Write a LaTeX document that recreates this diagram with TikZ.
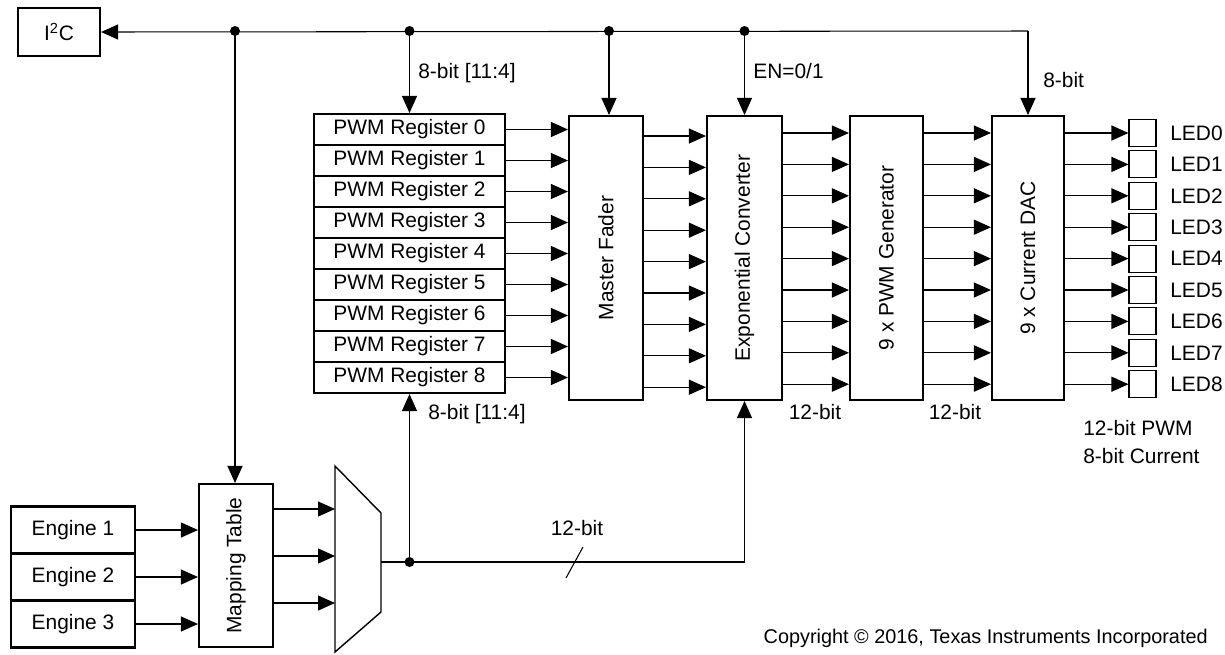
\documentclass[tikz,border=0pt]{standalone}
\usepackage{fontspec}
\setmainfont{Liberation Sans}
\usetikzlibrary{arrows.meta, positioning}

\begin{document}
\begin{tikzpicture}[x=0.02cm, y=-0.02cm, font=\fontsize{11.9}{16}\selectfont,
    blk/.style={draw, line width=1.2pt, inner sep=0pt},
    reg/.style={blk, minimum width=3.82cm, minimum height=0.62cm},
    tall/.style={blk, minimum height=5.68cm},
    eng/.style={blk, minimum width=2.48cm, minimum height=0.94cm},
    led/.style={draw, line width=0.6pt, minimum size=0.54cm, inner sep=0pt},
    wire/.style={line width=0.6pt},
    arr/.style={wire, -{Triangle[length=0.34cm, width=0.3cm]}},
    junc/.style={circle, fill, inner sep=0pt, minimum size=0.2cm},
    lbl/.style={inner sep=0pt}]

\useasboundingbox (0,0) rectangle (1225,654);

% host interface
\node[blk, minimum width=1.64cm, minimum height=0.96cm] (i2c) at (59,32) {I\textsuperscript{2}C};

% register bank
\foreach \i in {0,...,8} {
  \node[reg] (reg\i) at (409.5,{129.5+31*\i}) {PWM Register \i};
}

% processing chain
\node[tall, minimum width=1.48cm] (fader) at (606,258) {};
\node[rotate=90] at (fader) {Master Fader};
\node[tall, minimum width=1.5cm] (expconv) at (744.5,258) {};
\node[rotate=90] at (expconv) {Exponential Converter};
\node[tall, minimum width=1.46cm] (pwmgen) at (886.5,258) {};
\node[rotate=90] at (pwmgen) {9 x PWM Generator};
\node[tall, minimum width=1.44cm] (dac) at (1028,258) {};
\node[rotate=90] at (dac) {9 x Current DAC};

% channels between the blocks
\foreach \i [evaluate=\i as \ya using 136+31.4*\i,
             evaluate=\i as \yb using 133+31.4*\i] in {0,...,8} {
  \draw[arr] (reg\i.east) -- (reg\i.east -| fader.west);
  \draw[arr] (fader.east |- 0,\ya) -- (expconv.west |- 0,\ya);
  \draw[arr] (expconv.east |- 0,\yb) -- (pwmgen.west |- 0,\yb);
  \draw[arr] (pwmgen.east |- 0,\yb) -- (dac.west |- 0,\yb);
  \node[led] (led\i) at (1142.5,\yb) {};
  \draw[arr] (dac.east |- led\i) -- (led\i.west);
  \node[lbl, anchor=west] (ledname\i) at (1170,\yb) {LED\i};
}

% bus from the host
\coordinate (busend) at (dac.north |- 0,31);
\node[junc] (j1) at (235,31) {};
\node[junc] (j2) at (409.5,31) {};
\node[junc] (j3) at (609,31) {};
\node[junc] (j4) at (744.5,31) {};
\draw[arr] (busend) -- (i2c.east);
\draw[arr] (busend) -- (dac.north);
\draw[arr] (j2.center) -- (reg0.north);
\draw[arr] (j3.center) -- (j3.center |- fader.north);
\draw[arr] (j4.center) -- (expconv.north);

\node[lbl, anchor=west] (regbits) at (418,73) {8-bit [11:4]};
\node[lbl, anchor=west] (enbit) at (753,71) {EN=0/1};
\node[lbl, anchor=west] (dacbits) at (1043,80) {8-bit};
\node[lbl] (expbits) at (815,412) {12-bit};
\node[lbl] (genbits) at (955,412) {12-bit};
\node[lbl, anchor=west, align=left] (outinfo) at (1083,442) {12-bit PWM\\8-bit Current};

% engines and mapping
\foreach \i/\y in {1/530,2/577,3/624} {
  \node[eng] (eng\i) at (73,\y) {Engine \i};
}
\node[blk, minimum width=1.48cm, minimum height=3.26cm] (maptab) at (236,565.5) {};
\node[rotate=90] at (maptab) {Mapping Table};
\foreach \i in {1,2,3} {
  \draw[arr] (eng\i.east) -- (eng\i.east -| maptab.west);
}
\draw[arr] (j1.center) -- (j1.center |- maptab.north);

% selector
\coordinate (muxtl) at (335,466);
\coordinate (muxtr) at (381,513);
\coordinate (muxbr) at (381,612);
\coordinate (muxbl) at (335,652);
\draw[line width=0.8pt] (muxtl) -- (muxtr) -- (muxbr) -- (muxbl) -- cycle;
\foreach \y in {509,556,603} {
  \draw[arr] (maptab.east |- 0,\y) -- (muxtl |- 0,\y);
}
\coordinate (muxout) at (381,562);
\node[junc] (j5) at (409.5,562) {};
\draw[arr] (muxout) -| (expconv.south);
\draw[arr] (j5.center) -- (reg8.south);
\draw[wire] (566,578) -- (583,547);
\node[lbl] (busbits) at (577,528) {12-bit};
\node[lbl, anchor=west] (selbits) at (428,414) {8-bit [11:4]};

\node[lbl, anchor=east, font=\fontsize{11.3}{13}\selectfont] (copy) at (1208,638) {Copyright © 2016, Texas Instruments Incorporated};

\end{tikzpicture}
\end{document}
